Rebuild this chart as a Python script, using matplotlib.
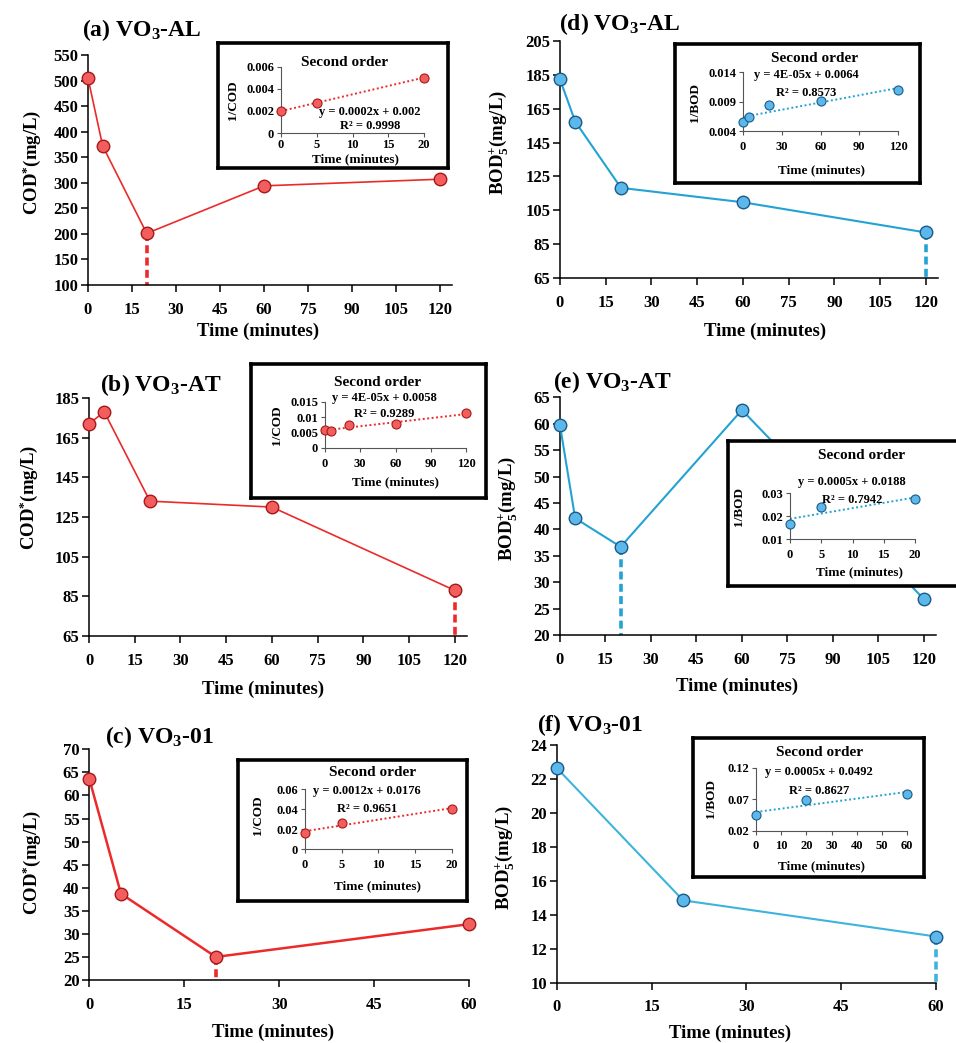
import numpy as np
import matplotlib
matplotlib.use('Agg')
import matplotlib.pyplot as plt

W, H = 956, 1043
plt.rcParams.update({
    'font.family': ['Liberation Serif', 'DejaVu Serif'],
    'font.weight': 'bold',
    'mathtext.fontset': 'custom',
    'mathtext.rm': 'Liberation Serif:bold',
    'mathtext.it': 'Liberation Serif:italic:bold',
    'mathtext.bf': 'Liberation Serif:bold',
})

# ---------------- data (main panels) ----------------
time_a = [0, 5, 20, 60, 120]
cod_a = [505, 372, 201, 294, 307]
time_b = [0, 5, 20, 60, 120]
cod_b = [172, 178, 133, 130, 88]
time_c = [0, 5, 20, 60]
cod_c = [63.6, 38.7, 25.0, 32.1]
time_d = [0, 5, 20, 60, 120]
bod_d = [182.2, 157.3, 118.3, 109.8, 92.0]
time_e = [0, 5, 20, 60, 120]
bod_e = [59.7, 42.1, 36.7, 62.6, 26.8]
time_f = [0, 20, 60]
bod_f = [22.65, 14.85, 12.72]

# ---------------- data (second-order insets) ----------------
ins_t_a = [0, 5, 20]
inv_a = [0.00200, 0.00272, 0.00502]
ins_t_b = [0, 5, 20, 60, 120]
inv_b = [0.0058, 0.0056, 0.0075, 0.0077, 0.0113]
ins_t_c = [0, 5, 20]
inv_c = [0.0160, 0.0262, 0.0405]
ins_t_d = [0, 5, 20, 60, 120]
inv_d = [0.00548, 0.00633, 0.00843, 0.00916, 0.01098]
ins_t_e = [0, 5, 20]
inv_e = [0.0168, 0.0240, 0.0275]
ins_t_f = [0, 20, 60]
inv_f = [0.0445, 0.0680, 0.0790]

eq_a = ["y = 0.0002x + 0.002", "R² = 0.9998"]
eq_b = ["y = 4E-05x + 0.0058", "R² = 0.9289"]
eq_c = ["y = 0.0012x + 0.0176", "R² = 0.9651"]
eq_d = ["y = 4E-05x + 0.0064", "R² = 0.8573"]
eq_e = ["y = 0.0005x + 0.0188", "R² = 0.7942"]
eq_f = ["y = 0.0005x + 0.0492", "R² = 0.8627"]

RED_LINE = '#ec2a2a'
RED_FACE = '#f25e5e'
RED_EDGE = '#a81818'
BLUE_LINE = '#22a3d3'
BLUE_FACE = '#5cb8ea'
BLUE_EDGE = '#1b5a88'

fig = plt.figure(figsize=(W / 100, H / 100), dpi=100)


def ax_px(l, t, r, b):
    return fig.add_axes([l / W, 1 - b / H, (r - l) / W, (b - t) / H])


def ftext(x, y, s, **kw):
    fig.text(x / W, 1 - y / H, s, **kw)


def main_panel(rect, t, v, xlim, xticks, ylim, yticks, line_c, face_c, edge_c,
               lw, drop_i, title, title_xy, ylab, ylab_xy, xlab_xy):
    ax = ax_px(*rect)
    ax.plot(t, v, color=line_c, lw=lw, marker='o', ms=9, mfc=face_c,
            mec=edge_c, mew=1.0, clip_on=False, zorder=3)
    ax.plot([t[drop_i], t[drop_i]], [v[drop_i], ylim[0]], color=line_c,
            lw=2.6, ls=(0, (2.2, 1.2)), zorder=2, clip_on=False)
    ax.set_xlim(*xlim)
    ax.set_ylim(*ylim)
    ax.set_xticks(xticks)
    ax.set_yticks(yticks)
    for s in ['top', 'right']:
        ax.spines[s].set_visible(False)
    for s in ['left', 'bottom']:
        ax.spines[s].set_linewidth(1.1)
    ax.tick_params(axis='both', labelsize=12, width=1.1, length=5,
                   direction='out', pad=2)
    ax.tick_params(axis='x', pad=7)
    for lab in ax.get_xticklabels() + ax.get_yticklabels():
        lab.set_fontweight('bold')
    ftext(title_xy[0], title_xy[1], title, fontsize=17, fontweight='bold',
          ha='left', va='center')
    ftext(ylab_xy[0], ylab_xy[1], ylab, fontsize=13.5, fontweight='bold',
          rotation=90, ha='center', va='center')
    ftext(xlab_xy[0], xlab_xy[1], 'Time (minutes)', fontsize=13.5,
          fontweight='bold', ha='center', va='center')
    return ax


def inset(box, inner, t, v, xlim, xticks, ylim, yticks, ylabels, face_c,
          edge_c, line_c, ylab, ylab_xy, xlab_xy, title_xy, eq, eq_xy, r2_xy,
          xpad=4):
    bx = ax_px(*box)
    bx.set_xticks([])
    bx.set_yticks([])
    bx.set_facecolor('white')
    for s in bx.spines.values():
        s.set_linewidth(2.6)
        s.set_color('black')
    ia = ax_px(*inner)
    ia.patch.set_alpha(0)
    coef = np.polyfit(t, v, 1)
    xx = np.array([min(t), max(t)])
    ia.plot(xx, np.polyval(coef, xx), color=line_c, lw=1.4, ls=(0, (1, 1.3)),
            zorder=2)
    ia.plot(t, v, ls='none', marker='o', ms=6.5, mfc=face_c, mec=edge_c,
            mew=0.8, clip_on=False, zorder=3)
    ia.set_xlim(*xlim)
    ia.set_ylim(*ylim)
    ia.set_xticks(xticks)
    ia.set_yticks(yticks)
    ia.set_yticklabels(ylabels)
    for s in ['top', 'right']:
        ia.spines[s].set_visible(False)
    for s in ['left', 'bottom']:
        ia.spines[s].set_linewidth(0.8)
        ia.spines[s].set_color('#555555')
    ia.tick_params(axis='both', labelsize=9, width=0.8, length=3,
                   color='#555555', pad=2)
    ia.tick_params(axis='x', pad=xpad)
    for lab in ia.get_xticklabels() + ia.get_yticklabels():
        lab.set_fontweight('bold')
    ftext(ylab_xy[0], ylab_xy[1], ylab, fontsize=9.5, fontweight='bold',
          rotation=90, ha='center', va='center')
    ftext(xlab_xy[0], xlab_xy[1], 'Time (minutes)', fontsize=9.5,
          fontweight='bold', ha='center', va='center')
    ftext(title_xy[0], title_xy[1], 'Second order', fontsize=11,
          fontweight='bold', ha='center', va='center')
    ftext(eq_xy[0], eq_xy[1], eq[0], fontsize=9, fontweight='bold',
          ha='center', va='center')
    ftext(r2_xy[0], r2_xy[1], eq[1], fontsize=9, fontweight='bold',
          ha='center', va='center')


x120 = [0, 15, 30, 45, 60, 75, 90, 105, 120]
x60 = [0, 15, 30, 45, 60]

# (a)
main_panel((88, 55, 452, 285), time_a, cod_a, (0, 124), x120, (100, 550),
           np.arange(100, 551, 50), RED_LINE, RED_FACE, RED_EDGE, 1.2, 2,
           '(a) VO$_3$-AL', (82, 30), 'COD$^{*}$(mg/L)', (32, 162),
           (258, 331))
inset((218, 43, 448, 168), (281, 66.7, 424, 133), ins_t_a, inv_a, (0, 20),
      [0, 5, 10, 15, 20], (0, 0.006), [0, 0.002, 0.004, 0.006],
      ['0', '0.002', '0.004', '0.006'], RED_FACE, RED_EDGE, RED_LINE,
      '1/COD', (233, 100), (355, 159.5), (345, 62), eq_a, (370, 112), (370, 126),
      xpad=1)

# (b)
main_panel((89, 398, 467, 636), time_b, cod_b, (0, 124), x120, (65, 185),
           np.arange(65, 186, 20), RED_LINE, RED_FACE, RED_EDGE, 1.2, 4,
           '(b) VO$_3$-AT', (100, 385), 'COD$^{*}$(mg/L)', (29, 497),
           (263, 689))
inset((251, 364, 486, 498), (325, 402, 466, 448), ins_t_b, inv_b, (0, 120),
      [0, 30, 60, 90, 120], (0, 0.015), [0, 0.005, 0.01, 0.015],
      ['0', '0.005', '0.01', '0.015'], RED_FACE, RED_EDGE, RED_LINE,
      '1/COD', (277, 425), (395, 482), (378, 383), eq_b, (384, 398), (384, 414))

# (c)
main_panel((89.3, 749.3, 469, 980), time_c, cod_c, (0, 60), x60, (20, 70),
           np.arange(20, 71, 5), RED_LINE, RED_FACE, RED_EDGE, 1.8, 2,
           '(c) VO$_3$-01', (105, 737), 'COD$^{*}$(mg/L)', (32, 862),
           (273, 1032))
inset((238, 760, 467, 901), (305, 789.3, 451.7, 849), ins_t_c, inv_c, (0, 20),
      [0, 5, 10, 15, 20], (0, 0.06), [0, 0.02, 0.04, 0.06],
      ['0', '0.02', '0.04', '0.06'], RED_FACE, RED_EDGE, RED_LINE,
      '1/COD', (258, 815), (378, 886), (373, 773), eq_c, (367, 791), (367, 809))

# (d)
main_panel((560, 40.7, 938, 278.3), time_d, bod_d, (0, 124), x120, (65, 205),
           np.arange(65, 206, 20), BLUE_LINE, BLUE_FACE, BLUE_EDGE, 1.5, 4,
           '(d) VO$_3$-AL', (559, 24), 'BOD$_5^{+}$(mg/L)', (499, 142),
           (765, 331))
inset((675, 44, 920, 183), (743, 72.3, 898, 131), ins_t_d, inv_d, (0, 120),
      [0, 30, 60, 90, 120], (0.004, 0.014), [0.004, 0.009, 0.014],
      ['0.004', '0.009', '0.014'], BLUE_FACE, BLUE_EDGE, BLUE_LINE,
      '1/BOD', (695, 102), (822, 170), (815, 58), eq_d, (806, 75), (806, 93))

# (e)
main_panel((560, 397.3, 936, 635), time_e, bod_e, (0, 124), x120, (20, 65),
           np.arange(20, 66, 5), BLUE_LINE, BLUE_FACE, BLUE_EDGE, 1.5, 2,
           '(e) VO$_3$-AT', (553, 382), 'BOD$_5^{+}$(mg/L)', (508, 508),
           (737, 686))
inset((728, 441, 972, 586), (790, 493.3, 915, 539.3), ins_t_e, inv_e, (0, 20),
      [0, 5, 10, 15, 20], (0.01, 0.03), [0.01, 0.02, 0.03],
      ['0.01', '0.02', '0.03'], BLUE_FACE, BLUE_EDGE, BLUE_LINE,
      '1/BOD', (739, 507), (860, 572), (862, 456), eq_e, (852, 482), (852, 500))

# (f)
main_panel((556.7, 745, 936, 982.7), time_f, bod_f, (0, 60), x60, (10, 24),
           np.arange(10, 25, 2), '#3db4dc', BLUE_FACE, BLUE_EDGE, 1.5, 2,
           '(f) VO$_3$-01', (537, 725), 'BOD$_5^{+}$(mg/L)', (505, 857),
           (730, 1033))
inset((693, 738, 924, 877), (756, 767.7, 907, 830.7), ins_t_f, inv_f, (0, 60),
      [0, 10, 20, 30, 40, 50, 60], (0.02, 0.12), [0.02, 0.07, 0.12],
      ['0.02', '0.07', '0.12'], BLUE_FACE, BLUE_EDGE, BLUE_LINE,
      '1/BOD', (711, 798), (822, 866), (820, 753), eq_f, (819, 772), (819, 791))

fig.savefig('out.png', dpi=100)
